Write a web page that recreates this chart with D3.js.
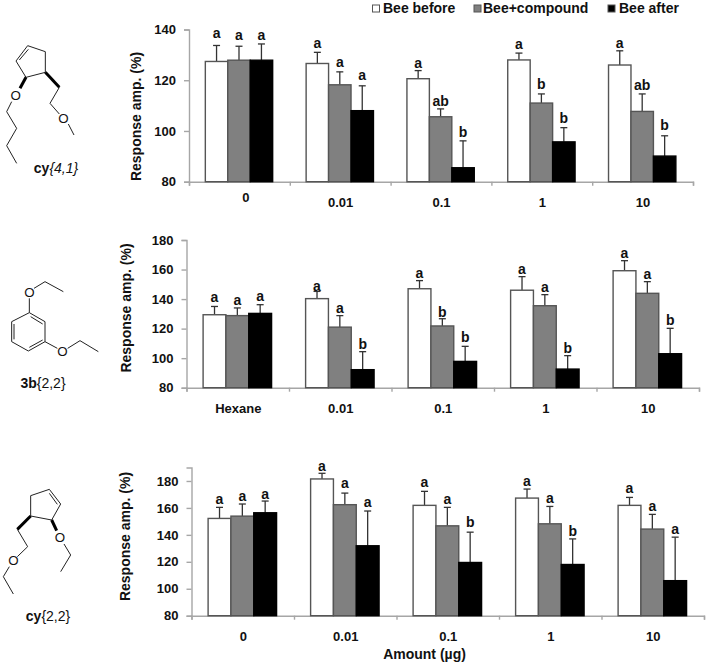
<!DOCTYPE html>
<html>
<head>
<meta charset="utf-8">
<script src="https://cdn.jsdelivr.net/npm/d3@7"></script>
<style>
body { margin: 0; background: #fff; }
text { font-family: "Liberation Sans", Arial, sans-serif; fill: #111; }
.bold { font-weight: bold; }
</style>
</head>
<body>
<svg id="chart" width="708" height="666"></svg>
<script>
const seriesNames = ["Bee before", "Bee+compound", "Bee after"]
const seriesColors = ["#fff", "#808080", "#000"]
const yTicks = [[80, 100, 120, 140], [80, 100, 120, 140, 160, 180], [80, 100, 120, 140, 160, 180]]

const categories1 = ["0", "0.01", "0.1", "1", "10"]
const categories2 = ["Hexane", "0.01", "0.1", "1", "10"]
const categories3 = ["0", "0.01", "0.1", "1", "10"]

// bar heights, one row per series
const values1 = [
    [127.4, 126.6, 120.6, 128, 126],
    [127.9, 118.2, 105.6, 111, 107.7],
    [127.9, 108, 85.5, 95.7, 90.1]
]
const values2 = [
    [129.4, 140.3, 147, 146, 159.2],
    [128.8, 121, 121.8, 135.5, 143.9],
    [130.3, 92.2, 97.8, 92.6, 103]
]
const values3 = [
    [152.2, 181.5, 161.9, 167.3, 161.9],
    [153.9, 162.4, 146.7, 148.2, 144.3],
    [156.4, 131.9, 119.5, 118, 106]
]

// top of each error bar
const errTops1 = [
    [133.7, 131, 123.8, 130.7, 131.6],
    [133.4, 123.3, 108.7, 114.6, 114.6],
    [134.3, 117.8, 96.1, 101.3, 98.1]
]
const errTops2 = [
    [135, 145.2, 152.5, 155.2, 166],
    [134, 128.8, 126.7, 143, 151.8],
    [136.2, 104.4, 108, 101.7, 120.2]
]
const errTops3 = [
    [160.4, 185.7, 172.3, 174, 167.8],
    [162.9, 171, 160.4, 161.1, 155.2],
    [165.1, 157.7, 142, 137, 138.3]
]

const letters1 = [
    ["a", "a", "a", "a", "a"],
    ["a", "a", "ab", "b", "ab"],
    ["a", "a", "b", "b", "b"]
]
const letters2 = [
    ["a", "a", "a", "a", "a"],
    ["a", "a", "b", "a", "a"],
    ["a", "b", "b", "b", "b"]
]
const letters3 = [
    ["a", "a", "a", "a", "a"],
    ["a", "a", "a", "a", "a"],
    ["a", "a", "b", "b", "a"]
]

// gap in px between error cap and letter, hand placed in the original
const gaps1 = [[7, 4.7, 3, 3.7, 3], [6.3, 5, 2.7, 5.3, 4.3], [4, 6.3, 4, 5, 5.7]]
const gaps2 = [[4, 0.7, 2.3, 2.7, 2.3], [3, 2.3, 2, 3, 2.7], [3.3, 2.7, 4.7, 2.3, 3.7]]
const gaps3 = [[3.3, 2, 4.7, 2.7, 4.3], [2.7, 5.3, 3.7, 3.3, 3], [2, 3.7, 4.7, 3, 3]]

let svg = d3.select("#chart")

drawPanel({left: 189, right: 693, top: 29.5, bottom: 181.7, yMax: 140, ticks: yTicks[0], titleX: 141, titleY: 116.5, catY: 207,
    categories: categories1, values: values1, errTops: errTops1, letters: letters1, gaps: gaps1})
drawPanel({left: 186.5, right: 699, top: 240, bottom: 387.7, yMax: 180, ticks: yTicks[1], titleX: 130.5, titleY: 308, catY: 413,
    categories: categories2, values: values2, errTops: errTops2, letters: letters2, gaps: gaps2})
drawPanel({left: 191.5, right: 704, top: 467.5, bottom: 615.7, yMax: 190, ticks: yTicks[2], titleX: 130, titleY: 536.5, catY: 641,
    categories: categories3, values: values3, errTops: errTops3, letters: letters3, gaps: gaps3})

function drawPanel(p)
{
    let g = svg.append("g")
    let y = d3.scaleLinear().domain([80, p.yMax]).range([p.bottom, p.top])
    let x = d3.scaleBand().domain(p.categories).range([p.left, p.right])
    let inner = d3.scaleBand().domain(d3.range(3)).range([x.bandwidth() * 0.162, x.bandwidth() * 0.83])
    let edges = d3.scaleLinear().domain([0, p.categories.length]).range([p.left, p.right])

    let yAxis = g.append("g").attr("transform", `translate(${p.left},0)`)
        .call(d3.axisLeft(y).tickValues(p.ticks).tickSize(5).tickPadding(8))
    let xAxis = g.append("g").attr("transform", `translate(0,${p.bottom})`)
        .call(d3.axisBottom(edges).ticks(p.categories.length).tickSize(4).tickFormat(""))
    for(const axis of [yAxis, xAxis]){
        axis.selectAll("path, line").attr("stroke", "#a6a6a6").attr("stroke-width", 1.4)
    }
    yAxis.selectAll("text").attr("class", "bold").style("font-size", "13px").style("font-family", null)

    p.values.forEach((row, s) => {
        let bx = (d, i) => x(p.categories[i]) + inner(s)
        let mid = (d, i) => bx(d, i) + inner.bandwidth() / 2
        let tops = p.errTops[s]

        g.append("g").selectAll("line").data(row).join("line")
            .attr("x1", mid).attr("x2", mid)
            .attr("y1", d => y(d))
            .attr("y2", (d, i) => y(tops[i]))
            .attr("stroke", "#333").attr("stroke-width", 1.3)
        g.append("g").selectAll("line").data(tops).join("line")
            .attr("x1", (d, i) => mid(d, i) - 3.5).attr("x2", (d, i) => mid(d, i) + 3.5)
            .attr("y1", d => y(d)).attr("y2", d => y(d))
            .attr("stroke", "#333").attr("stroke-width", 1.3)
        g.append("g").selectAll("rect").data(row).join("rect")
            .attr("x", bx)
            .attr("y", d => y(d))
            .attr("width", inner.bandwidth())
            .attr("height", d => p.bottom - y(d))
            .attr("fill", seriesColors[s])
            .attr("stroke", s == 2 ? "#000" : "#555")
            .attr("stroke-width", 1.4)
        g.append("g").selectAll("text").data(p.letters[s]).join("text")
            .attr("class", "bold")
            .attr("x", (d, i) => mid(d, i))
            .attr("y", (d, i) => y(tops[i]) - p.gaps[s][i])
            .attr("text-anchor", "middle")
            .style("font-size", "14px")
            .text(d => d)
    })

    // first label of the top panel sits higher and to the right in the original
    let nudge = i => (p.yMax == 140 && i == 0)
    g.append("g").selectAll("text").data(p.categories).join("text")
        .attr("class", "bold")
        .attr("x", (d, i) => x(d) + x.bandwidth() / 2 + (nudge(i) ? 6.5 : 0.5))
        .attr("y", (d, i) => p.catY - (nudge(i) ? 5 : 0))
        .attr("text-anchor", "middle")
        .style("font-size", "13px")
        .text(d => d)

    g.append("text")
        .attr("class", "bold")
        .attr("transform", `translate(${p.titleX},${p.titleY}) rotate(-90)`)
        .attr("text-anchor", "middle")
        .style("font-size", "14px")
        .text("Response amp. (%)")
}

svg.append("text").attr("class", "bold")
    .attr("x", 424.5).attr("y", 659)
    .attr("text-anchor", "middle")
    .style("font-size", "14px")
    .text("Amount (µg)")

// legend
const legendSwatchX = [372.5, 474, 608]
const legendTextX = [383, 483, 619]
seriesNames.forEach((name, i) => {
    svg.append("rect")
        .attr("x", legendSwatchX[i]).attr("y", 5).attr("width", 7).attr("height", 7)
        .attr("fill", seriesColors[i]).attr("stroke", "#555")
    svg.append("text").attr("class", "bold")
        .attr("x", legendTextX[i]).attr("y", 13)
        .style("font-size", "14px")
        .text(name)
})

// structures, traced in 3x units
const mol1Lines = [
    [[48, 183], [83, 137], [136, 155], [136, 217], [78, 232], [48, 183]],
    [[58, 180], [85, 148]],
    [[35, 305], [20, 335], [50, 385], [20, 437], [50, 490]],
    [[178, 262], [150, 310], [178, 342]],
    [[205, 372], [222, 405]]
]
const mol1Wedges = [[[78, 232], [60, 265]], [[136, 217], [178, 262]]]
const mol1Atoms = [[47, 287], [190, 355]]

const mol2Lines = [
    [[102, 205], [135, 185], [190, 215]],
    [[88, 235], [88, 278]],
    [[88, 278], [135, 305], [135, 365], [85, 393], [35, 365], [35, 305], [88, 278]],
    [[42, 312], [42, 358]],
    [[88, 382], [128, 360]],
    [[92, 290], [128, 312]],
    [[135, 365], [172, 385]],
    [[203, 385], [240, 362], [295, 395]]
]
const mol3Lines = [
    [[92, 167], [148, 148], [182, 192], [155, 240], [92, 228], [92, 167]],
    [[148, 160], [172, 193]],
    [[192, 312], [212, 345], [182, 395]],
    [[52, 268], [83, 320], [52, 350]],
    [[28, 380], [10, 410], [40, 462]]
]
const mol3Wedges = [[[155, 240], [170, 272]], [[92, 228], [52, 268]]]
const mol3Atoms = [[180, 293], [40, 362]]

drawMolecule(0, mol1Lines, mol1Wedges, mol1Atoms)
drawMolecule(220, mol2Lines, [], [[88, 216], [187, 395]])
drawMolecule(440, mol3Lines, mol3Wedges, mol3Atoms)
drawMolName(56, 173, "cy", "{4,1}", true)
drawMolName(43, 388, "3b", "{2,2}", false)
drawMolName(48, 621, "cy", "{2,2}", false)

function drawMolecule(offsetY, lines, wedges, atoms)
{
    let g = svg.append("g").attr("transform", `translate(0,${offsetY}) scale(${1 / 3})`)
    let line = d3.line()
    g.selectAll("path.bond").data(lines).join("path").attr("class", "bond")
        .attr("d", line).attr("fill", "none").attr("stroke", "#222").attr("stroke-width", 3)
    g.selectAll("path.wedge").data(wedges).join("path").attr("class", "wedge")
        .attr("d", line).attr("fill", "none").attr("stroke", "#000").attr("stroke-width", 9)
    g.selectAll("text").data(atoms).join("text")
        .attr("x", d => d[0]).attr("y", d => d[1] + 14)
        .attr("text-anchor", "middle")
        .style("font-size", "40px")
        .text("O")
}

function drawMolName(cx, y, bold, rest, italic)
{
    let t = svg.append("text").attr("x", cx).attr("y", y).attr("text-anchor", "middle").style("font-size", "14px")
    t.append("tspan").attr("class", "bold").text(bold)
    t.append("tspan").style("font-style", italic ? "italic" : "normal").text(rest)
}
</script>
</body>
</html>
